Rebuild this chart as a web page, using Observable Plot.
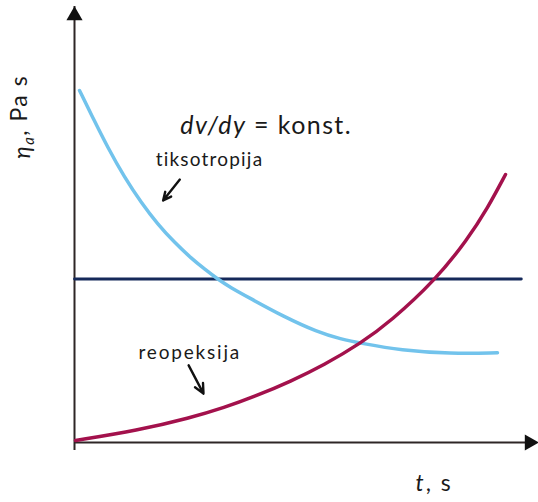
<!DOCTYPE html>
<html>
<head>
<meta charset="utf-8">
<script src="https://cdn.jsdelivr.net/npm/d3@7"></script>
<script src="https://cdn.jsdelivr.net/npm/@observablehq/plot@0.6"></script>
<style>
  body { margin: 0; background: #fff; }
  svg { display: block; }
</style>
</head>
<body>
<div id="chart"></div>
<script>
// Thixotropy curve (light blue): time vs apparent viscosity
const tixT   = [1.08, 4.31, 7.11, 10.78, 14.44, 17.89, 21.55, 25.22, 28.02, 30.82, 33.62, 37.93, 45.04, 52.37, 57.33, 62.07, 70.26, 81.03, 91.16];
const tixEta = [80.73, 73.74, 67.78, 60.78, 54.93, 50.11, 45.87, 42.20, 39.79, 37.50, 35.55, 33.03, 28.90, 25.34, 23.74, 22.71, 21.17, 20.37, 20.57];
// Rheopexy curve (crimson)
const reoT   = [0.22, 13.58, 25.0, 32.18, 39.38, 46.55, 53.73, 61.64, 68.10, 77.80, 84.70, 89.01, 92.89];
const reoEta = [0.46, 2.75, 5.67, 7.96, 10.78, 14.01, 17.74, 22.72, 27.76, 37.27, 46.59, 53.70, 61.46];
// Constant-viscosity line (dark blue)
const constT   = [0, 96.3];
const constEta = [37.5, 37.5];
// Axes extents
const axisX = [0, 100];
const axisY = [0, 100];
// Annotation texts and anchor points (data units)
const annoText = ["dv/dy = konst.", "tiksotropija", "reopeksija"];
const annoT    = [22.8, 17.5, 13.8];
const annoEta  = [72.7, 64.8, 20.5];
const annoSize = [25, 19, 19];
const annoSpacing = [1.4, 1.2, 1.8];
// Annotation arrows: [t1, eta1, t2, eta2]
const arrowsData = [
  [22.7, 60.3, 19.1, 55.5],
  [24.6, 17.7, 27.8, 11.2]
];
const xLabel = "t, s";
const yLabel = "η_a, Pa s";

const tix = tixT.map((t, i) => ({t, eta: tixEta[i]}));
const reo = reoT.map((t, i) => ({t, eta: reoEta[i]}));
const cst = constT.map((t, i) => ({t, eta: constEta[i]}));
const anno = annoText.map((s, i) => ({s, t: annoT[i], eta: annoEta[i], size: annoSize[i]}));
const arrows = arrowsData.map(([x1, y1, x2, y2]) => ({x1, y1, x2, y2}));

const font = "Lato, 'Open Sans', sans-serif";
const axisColor = "#2e2626";

const plot = Plot.plot({
  width: 538,
  height: 502,
  marginLeft: 74,
  marginRight: 0,
  marginTop: 6,
  marginBottom: 60,
  x: {domain: axisX, axis: null},
  y: {domain: axisY, axis: null},
  style: {fontFamily: font, background: "#fff", overflow: "visible"},
  marks: [
    Plot.ruleX([axisX[0]], {y1: axisY[0], y2: axisY[1], stroke: axisColor, strokeWidth: 2, insetTop: 8}),
    Plot.ruleY([axisY[0]], {x1: axisX[0], x2: axisX[1], stroke: axisColor, strokeWidth: 2, insetRight: 8}),
    Plot.dot([{t: axisX[0], eta: axisY[1]}], {x: "t", y: "eta", symbol: "triangle", r: 6, fill: "#111", stroke: "none", dy: 9}),
    Plot.dot([{t: axisX[1], eta: axisY[0]}], {x: "t", y: "eta", symbol: "triangle", r: 6, fill: "#111", stroke: "none", rotate: 90, dx: -9}),
    Plot.line(cst, {x: "t", y: "eta", stroke: "#15295a", strokeWidth: 2.8}),
    Plot.line(tix, {x: "t", y: "eta", stroke: "#72c3ec", strokeWidth: 3.5, curve: "basis"}),
    Plot.line(reo, {x: "t", y: "eta", stroke: "#a3114c", strokeWidth: 3.5, curve: "basis"}),
    Plot.arrow(arrows, {x1: "x1", y1: "y1", x2: "x2", y2: "y2", stroke: "#111", strokeWidth: 2.4, headLength: 9, headAngle: 50}),
    Plot.text(anno, {x: "t", y: "eta", text: "s", fontSize: "size", textAnchor: "start", fill: "#1a1a1a", className: "anno"}),
    Plot.text([{t: 73.5, eta: -9.5}], {x: "t", y: "eta", text: () => xLabel, fontSize: 23, textAnchor: "start", fill: "#1a1a1a", className: "xlab"}),
    Plot.text([{t: -11.2, eta: 74.7}], {x: "t", y: "eta", text: () => yLabel, fontSize: 23, rotate: -90, textAnchor: "middle", fill: "#1a1a1a", className: "ylab"})
  ]
});

document.getElementById("chart").appendChild(plot);

// Mixed styling (italic / subscript) and spacing via tspans
const svg = d3.select(plot);
svg.selectAll(".anno text").each(function() {
  const el = d3.select(this);
  const txt = el.text();
  const idx = annoText.indexOf(txt);
  if (idx >= 0) el.attr("letter-spacing", annoSpacing[idx]);
  if (txt === annoText[0]) {
    el.text("");
    el.append("tspan").attr("font-style", "italic").text("dv/dy");
    el.append("tspan").text(" = konst.");
  }
});
svg.selectAll(".xlab text").each(function() {
  const el = d3.select(this);
  el.attr("letter-spacing", 2);
  el.text("");
  el.append("tspan").attr("font-style", "italic").text("t");
  el.append("tspan").text(", s");
});
svg.selectAll(".ylab text").each(function() {
  const el = d3.select(this);
  el.attr("letter-spacing", 1.5);
  el.text("");
  el.append("tspan").attr("font-style", "italic").text("η");
  el.append("tspan").attr("font-style", "italic").attr("font-size", "65%").attr("dy", "0.3em").text("a");
  el.append("tspan").attr("dy", "-0.3em").text(", Pa s");
});
</script>
</body>
</html>
